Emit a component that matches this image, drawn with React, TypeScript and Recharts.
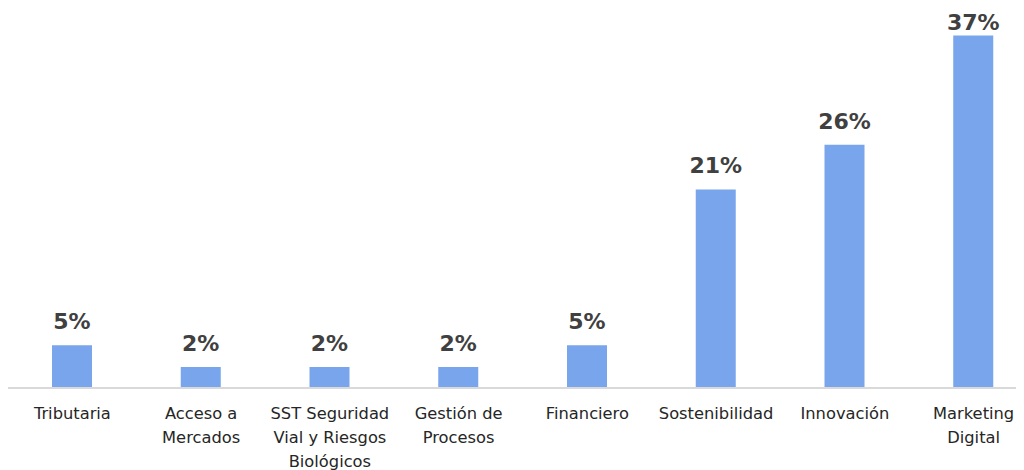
import React from "react";
import { BarChart, Bar, XAxis, YAxis, LabelList } from "recharts";

const categories = [
  "Tributaria",
  "Acceso a\nMercados",
  "SST Seguridad\nVial y Riesgos\nBiológicos",
  "Gestión de\nProcesos",
  "Financiero",
  "Sostenibilidad",
  "Innovación",
  "Marketing\nDigital",
];
const values = [4.5, 2.2, 2.2, 2.2, 4.5, 20.9, 25.6, 37.1];
const labels = ["5%", "2%", "2%", "2%", "5%", "21%", "26%", "37%"];

const data = categories.map((c, i) => ({ name: c, value: values[i], label: labels[i] }));

const FONT = "'DejaVu Sans', Verdana, sans-serif";

const Tick = (props: any) => {
  const { x, y, payload } = props;
  const lines = String(payload.value).split("\n");
  return (
    <text x={x} y={y} textAnchor="middle" fill="#262626" fontFamily={FONT} fontSize={16.3}>
      {lines.map((l: string, i: number) => (
        <tspan key={i} x={x} dy={i === 0 ? 23 : 24}>
          {l}
        </tspan>
      ))}
    </text>
  );
};

const ValueLabel = (props: any) => {
  const { x, y, width, value } = props;
  const baseline = Math.max(Number(y) - 16, 22);
  return (
    <text
      x={Number(x) + Number(width) / 2}
      y={baseline}
      textAnchor="middle"
      fill="#404040"
      fontFamily={FONT}
      fontSize={22}
      fontWeight="bold"
    >
      {value}
    </text>
  );
};

export default function App() {
  return (
    <div style={{ width: 1016, height: 462, overflow: "hidden" }}>
      <BarChart
        width={1030}
        height={462}
        data={data}
        margin={{ top: 0, right: 0, bottom: 0, left: 0 }}
      >
        <XAxis
          dataKey="name"
          interval={0}
          tickLine={false}
          axisLine={{ stroke: "#D9D9D9", strokeWidth: 2 }}
          height={82}
          tick={<Tick />}
        />
        <YAxis hide domain={[0, 40]} />
        <Bar dataKey="value" fill="#78A5EB" barSize={40} isAnimationActive={false}>
          <LabelList dataKey="label" content={<ValueLabel />} />
        </Bar>
      </BarChart>
    </div>
  );
}
